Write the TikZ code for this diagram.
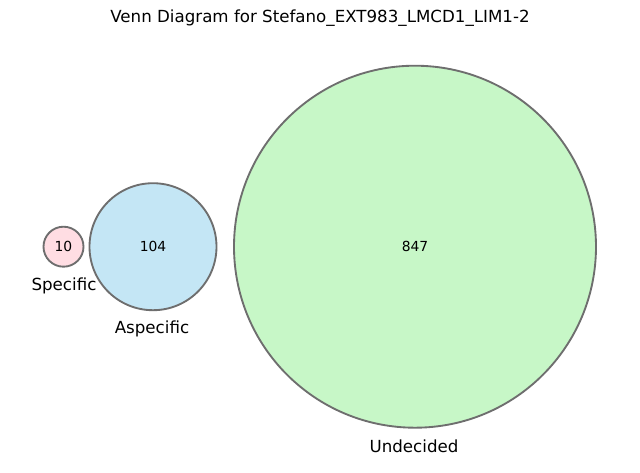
\documentclass[tikz,border=0pt]{standalone}
\usepackage{fontspec}
\setmainfont{DejaVu Sans}
\definecolor{pinkf}{HTML}{FFDDE3}
\definecolor{bluef}{HTML}{C4E6F5}
\definecolor{greenf}{HTML}{C7F7C7}
\definecolor{edgec}{HTML}{6E6E6E}
\begin{document}
\begin{tikzpicture}[x=0.75pt,y=-0.75pt,
  setc/.style={circle,draw=edgec,line width=1.4pt,inner sep=0pt},
  num/.style={font=\fontsize{10.4}{12}\selectfont},
  lab/.style={font=\fontsize{12.5}{14}\selectfont},
  ]
\useasboundingbox[fill=white] (0,0) rectangle (640,472);
\node[font=\fontsize{12.5}{14}\selectfont] (title) at (320,18) {Venn Diagram for Stefano\_EXT983\_LMCD1\_LIM1-2};
\node[setc,fill=pinkf,minimum size=40*0.75pt] (spec) at (63.5,246.7) {};
\node[setc,fill=bluef,minimum size=127*0.75pt] (asp) at (153,246.7) {};
\node[setc,fill=greenf,minimum size=362*0.75pt] (und) at (415,246.7) {};
\node[num] (n1) at (spec.center) {10};
\node[num] (n2) at (asp.center) {104};
\node[num] (n3) at (und.center) {847};
\node[lab] (l1) at (64,285.5) {Specific};
\node[lab] (l2) at (152,328.5) {Aspecific};
\node[lab] (l3) at (414,446) {Undecided};
\end{tikzpicture}
\end{document}
